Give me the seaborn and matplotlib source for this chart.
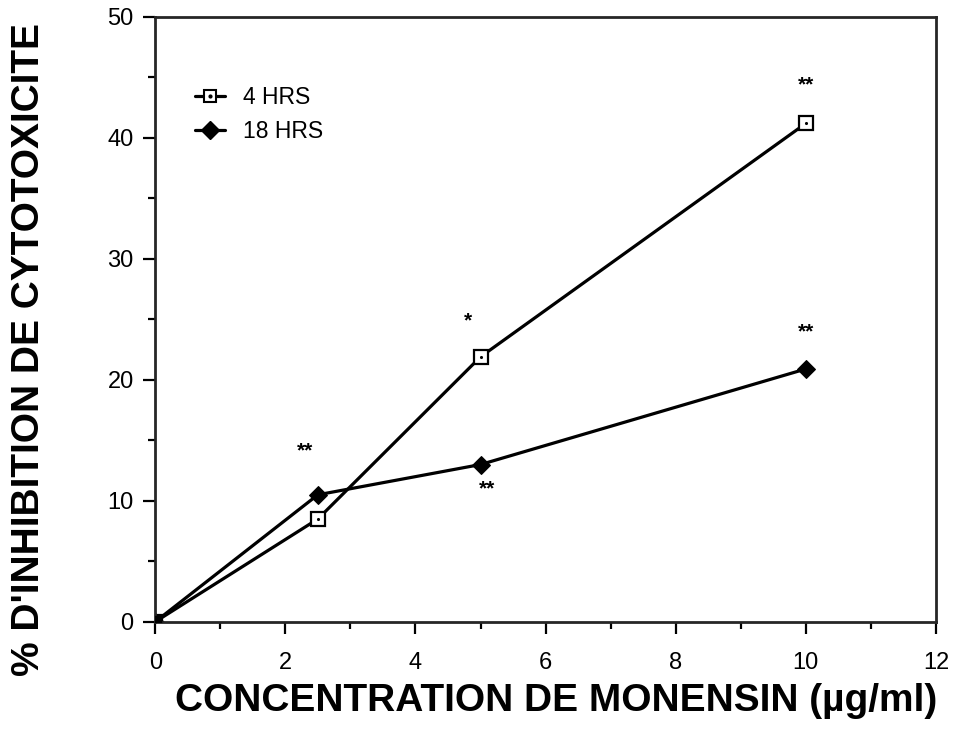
import matplotlib
matplotlib.use("Agg")
import matplotlib.pyplot as plt
import seaborn as sns
import pandas as pd
from matplotlib.lines import Line2D
from matplotlib.legend_handler import HandlerTuple
from matplotlib.ticker import MultipleLocator

concentration = [0, 2.5, 5, 10]
hrs4 = [0, 8.5, 21.9, 41.2]
hrs18 = [0, 10.5, 13.0, 20.9]
series_names = ["4 HRS", "18 HRS"]

star_x = [2.3, 4.8, 5.1, 10.0, 10.0]
star_y = [14.1, 24.9, 11.0, 44.4, 24.0]
star_text = ["**", "*", "**", "**", "**"]

xticks = [0, 2, 4, 6, 8, 10, 12]
yticks = [0, 10, 20, 30, 40, 50]

df = pd.DataFrame({
    "conc": concentration * 2,
    "value": hrs4 + hrs18,
    "series": [series_names[0]] * 4 + [series_names[1]] * 4,
})

sns.set_style("ticks")
plt.rcParams["font.family"] = ["Liberation Sans", "DejaVu Sans"]
plt.rcParams["text.color"] = "black"
plt.rcParams["xtick.color"] = "black"
plt.rcParams["ytick.color"] = "black"
plt.rcParams["axes.labelcolor"] = "black"

fig = plt.figure(figsize=(9.58, 7.35), dpi=100)
ax = fig.add_axes([0.162, 0.154, 0.815, 0.823])

LW = 2.3
d4 = df[df.series == series_names[0]]
d18 = df[df.series == series_names[1]]
sns.lineplot(data=d18, x="conc", y="value", ax=ax, color="black", lw=LW,
             marker="D", markersize=9, markerfacecolor="black",
             markeredgecolor="black", legend=False)
sns.lineplot(data=d4, x="conc", y="value", ax=ax, color="black", lw=LW,
             marker="s", markersize=10, markerfacecolor="white",
             markeredgecolor="black", markeredgewidth=1.6, legend=False)
sns.scatterplot(data=d4, x="conc", y="value", ax=ax, color="black", s=5,
                marker="o", linewidth=0, legend=False, zorder=5)
# filled origin
ax.plot([0], [0], marker="s", color="black", markersize=9, zorder=6)

for xs, ys, t in zip(star_x, star_y, star_text):
    ax.text(xs, ys, t, ha="center", va="center", fontsize=15, fontweight="bold")

ax.set_xlim(0, 12)
ax.set_ylim(0, 50)
ax.set_xticks(xticks)
ax.set_yticks(yticks)
ax.xaxis.set_minor_locator(MultipleLocator(1))
ax.yaxis.set_minor_locator(MultipleLocator(5))
ax.tick_params(which="major", direction="out", length=8.5, width=1.6,
               labelsize=17)
ax.tick_params(axis="x", which="major", pad=13)
ax.tick_params(axis="y", which="major", pad=7)
ax.tick_params(which="minor", direction="out", length=5, width=1.6)
for s in ax.spines.values():
    s.set_linewidth(2.0)
    s.set_visible(True)

ax.set_xlabel("CONCENTRATION DE MONENSIN (\u00b5g/ml)", fontsize=28, fontweight="bold")
ax.set_ylabel("% D'INHIBITION DE CYTOTOXICITE", fontsize=28, fontweight="bold")
ax.xaxis.set_label_coords(0.513, -0.131)
ax.xaxis.label.set_va("center")
ax.yaxis.set_label_coords(-0.161, 0.450)
ax.yaxis.label.set_va("center")

h4_line = Line2D([], [], color="black", lw=LW, marker="s", markersize=9,
                 markerfacecolor="white", markeredgecolor="black", markeredgewidth=1.5)
h4_dot = Line2D([], [], color="black", lw=0, marker="o", markersize=2)
h18 = Line2D([], [], color="black", lw=LW, marker="D", markersize=9,
             markerfacecolor="black")
ax.legend([(h4_line, h4_dot), h18], series_names,
          handler_map={tuple: HandlerTuple(ndivide=1, pad=0)},
          loc="upper left", bbox_to_anchor=(0.025, 0.92), frameon=False,
          fontsize=16.5, handlelength=1.3, handletextpad=0.8, labelspacing=0.5)

fig.savefig("out.png", dpi=100)
